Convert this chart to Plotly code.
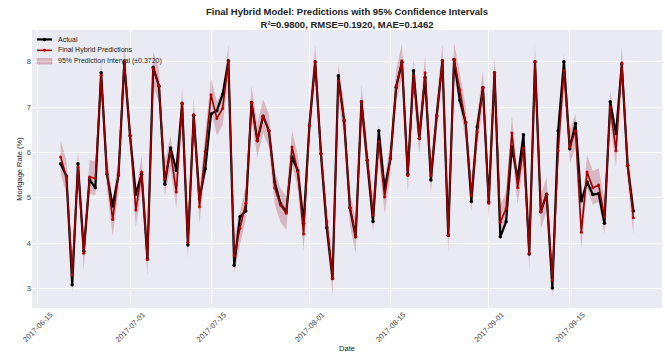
import pandas as pd
import plotly.graph_objects as go

# Daily test-period dates
dates = pd.date_range("2017-06-19", periods=100, freq="D")

# Observed mortgage rates (%)
actual = [
    5.75, 5.48, 3.08, 5.75, 3.82, 5.40, 5.22, 7.76, 5.52, 4.82,
    5.50, 7.96, 6.37, 5.08, 5.52, 3.65, 7.88, 7.46, 5.30, 6.10,
    5.60, 7.08, 3.96, 6.82, 4.98, 5.64, 6.85, 6.92, 7.28, 8.02,
    3.51, 4.58, 4.71, 7.10, 6.26, 6.80, 6.48, 5.35, 4.87, 4.69,
    5.90, 5.60, 4.44, 6.59, 8.00, 5.97, 4.34, 3.22, 7.69, 6.70,
    4.78, 4.14, 7.12, 5.83, 4.48, 6.48, 5.20, 5.86, 7.44, 7.99,
    5.52, 7.80, 6.31, 7.65, 5.39, 6.81, 8.02, 4.17, 8.05, 7.15,
    6.66, 4.92, 6.56, 7.43, 4.91, 7.76, 4.14, 4.47, 6.12, 5.42,
    6.39, 3.76, 8.00, 4.69, 5.08, 3.01, 6.48, 8.00, 6.08, 6.64,
    4.93, 5.35, 5.07, 5.09, 4.44, 7.12, 6.41, 7.95, 5.72, 4.71,
]

# Final hybrid model predictions (%)
predicted = [
    5.90, 5.45, 3.30, 5.68, 3.78, 5.46, 5.43, 7.70, 5.57, 4.52,
    5.53, 8.02, 6.38, 4.73, 5.57, 3.64, 7.85, 7.47, 5.42, 6.00,
    5.13, 7.09, 4.02, 6.83, 4.80, 6.02, 7.27, 6.75, 6.97, 8.00,
    3.72, 4.33, 4.88, 7.10, 6.26, 6.80, 6.48, 5.22, 4.84, 4.66,
    6.12, 5.57, 4.20, 6.59, 8.00, 5.97, 4.47, 3.22, 7.58, 6.72,
    4.78, 4.14, 7.12, 5.83, 4.62, 6.24, 5.02, 5.86, 7.47, 8.02,
    5.49, 7.69, 6.31, 7.76, 5.49, 6.80, 8.02, 4.17, 8.05, 7.38,
    6.66, 5.05, 6.45, 7.43, 4.88, 7.76, 4.46, 4.76, 6.43, 5.22,
    6.10, 3.78, 8.00, 4.69, 5.08, 3.18, 6.04, 7.80, 6.12, 6.48,
    4.24, 5.57, 5.22, 5.28, 4.58, 7.00, 6.04, 7.97, 5.72, 4.56,
]

half_width = 0.3720
r2, rmse, mae = 0.9800, 0.1920, 0.1462

tick_dates = ["2017-06-15", "2017-07-01", "2017-07-15", "2017-08-01",
              "2017-08-15", "2017-09-01", "2017-09-15"]
y_ticks = [3, 4, 5, 6, 7, 8]

legend_labels = ["Actual", "Final Hybrid Predictions",
                 f"95% Prediction Interval (±{half_width:.4f})"]

upper = [p + half_width for p in predicted]
lower = [p - half_width for p in predicted]

FONT = "Liberation Sans, Arial, sans-serif"
band_color = "rgba(150,10,25,0.22)"
actual_color = "black"
pred_line_color = "#9b0000"
pred_marker_color = "#c00000"

fig = go.Figure()

fig.add_trace(go.Scatter(
    x=dates, y=upper, mode="lines", line=dict(width=0),
    showlegend=False, hoverinfo="skip",
))
fig.add_trace(go.Scatter(
    x=dates, y=lower, mode="lines", line=dict(width=0),
    fill="tonexty", fillcolor=band_color, showlegend=False,
    name=legend_labels[2],
))
fig.add_trace(go.Scatter(
    x=dates, y=actual, mode="lines+markers", name=legend_labels[0],
    line=dict(color=actual_color, width=2.2),
    marker=dict(color=actual_color, size=3.5), showlegend=False,
))
fig.add_trace(go.Scatter(
    x=dates, y=predicted, mode="lines+markers", name=legend_labels[1],
    line=dict(color=pred_line_color, width=1.6),
    marker=dict(color=pred_marker_color, size=3), showlegend=False,
))

# Compact legend in the upper-left corner of the plotting area
PLOT_L, PLOT_T, PLOT_W, PLOT_H = 32, 30, 630, 280


def px_x(p):
    return (p - PLOT_L) / PLOT_W


def px_y(p):
    return 1 - (p - PLOT_T) / PLOT_H


shapes = []
annotations = []
row_y = [39.5, 50.5, 61.5]
sym_x0, sym_x1 = 37, 52
styles = [
    (actual_color, 2.2, actual_color, 3.5),
    (pred_line_color, 1.6, pred_marker_color, 3),
]
for (lc, lw, mc, ms), yy in zip(styles, row_y[:2]):
    shapes.append(dict(type="line", xref="paper", yref="paper",
                       x0=px_x(sym_x0), x1=px_x(sym_x1),
                       y0=px_y(yy), y1=px_y(yy),
                       line=dict(color=lc, width=lw)))
    cx = (sym_x0 + sym_x1) / 2
    r = ms / 2
    shapes.append(dict(type="circle", xref="paper", yref="paper",
                       x0=px_x(cx - r), x1=px_x(cx + r),
                       y0=px_y(yy + r), y1=px_y(yy - r),
                       fillcolor=mc, line=dict(width=0)))
shapes.append(dict(type="rect", xref="paper", yref="paper",
                   x0=px_x(sym_x0), x1=px_x(sym_x1),
                   y0=px_y(row_y[2] + 2.8), y1=px_y(row_y[2] - 2.8),
                   fillcolor=band_color, line=dict(color="rgba(150,10,25,0.3)", width=0.6)))
for label, yy in zip(legend_labels, row_y):
    annotations.append(dict(text=label, xref="paper", yref="paper",
                            x=px_x(56), y=px_y(yy), xanchor="left", yanchor="middle",
                            showarrow=False,
                            font=dict(family=FONT, size=7, color="#222222")))

# Date axis padded by 5% of the data span on each side
span = dates[-1] - dates[0]
x_range = [dates[0] - span * 0.05, dates[-1] + span * 0.05]

fig.update_layout(
    width=665, height=354,
    margin=dict(l=PLOT_L, r=665 - PLOT_L - PLOT_W, t=PLOT_T, b=354 - PLOT_T - PLOT_H),
    paper_bgcolor="white",
    plot_bgcolor="#EAEAF2",
    font=dict(family=FONT, size=7.5, color="#333333"),
    title=dict(
        text=(f"<b>Final Hybrid Model: Predictions with 95% Confidence Intervals<br>"
              f"R²={r2:.4f}, RMSE={rmse:.4f}, MAE={mae:.4f}</b>"),
        x=0.5, xref="paper", y=0.957, yanchor="top",
        font=dict(family=FONT, size=9.5, color="#222222"),
    ),
    shapes=shapes,
    annotations=annotations,
    showlegend=False,
)

fig.update_xaxes(
    range=x_range,
    tickvals=pd.to_datetime(tick_dates), ticktext=tick_dates,
    tickangle=-45, ticklabelshift=13,
    showgrid=True, gridcolor="white", gridwidth=1,
    zeroline=False, showline=False, ticks="",
    tickfont=dict(size=7.5, color="#444444"),
    title=dict(text="Date", font=dict(size=7.5, color="#222222"), standoff=2),
)
fig.update_yaxes(
    range=[2.57, 8.70], tickvals=y_ticks,
    showgrid=True, gridcolor="white", gridwidth=1,
    zeroline=False, showline=False, ticks="",
    tickfont=dict(size=7.5, color="#444444"),
    title=dict(text="Mortgage Rate (%)", font=dict(size=7.5, color="#222222"), standoff=3),
)

fig.write_html("out.html")
